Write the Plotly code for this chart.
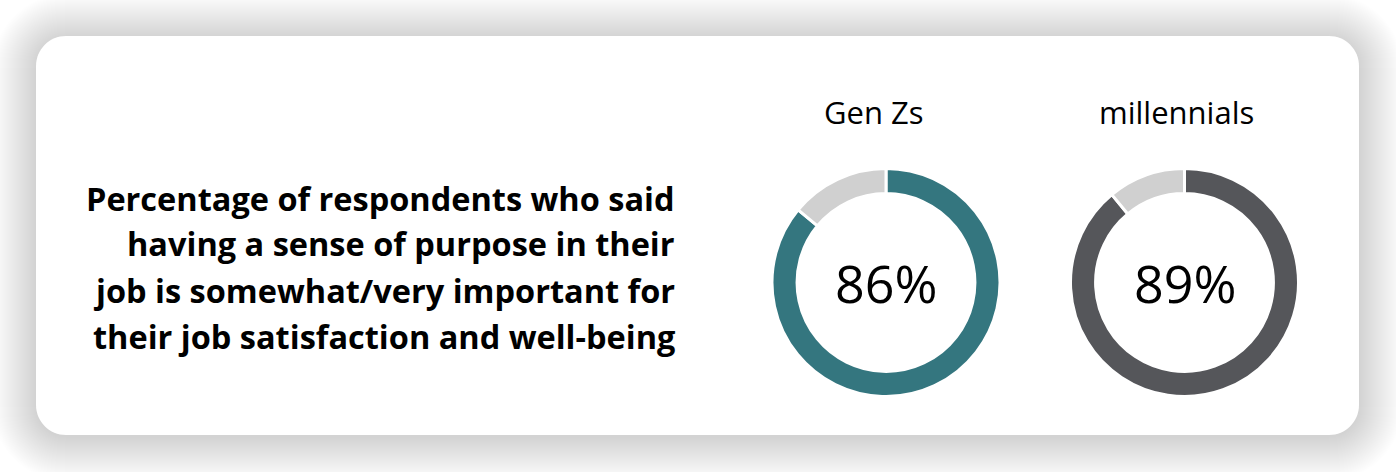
import plotly.graph_objects as go

W, H = 1396, 472

groups = ["Gen Zs", "millennials"]
agree_pct = [86, 89]
ring_colors = ["#34767F", "#55565A"]
rest_color = "#D0D0D0"
title_lines = [
    "Percentage of respondents who said",
    "having a sense of purpose in their",
    "job is somewhat/very important for",
    "their job satisfaction and well-being",
]

centers_px = [(886, 282.5), (1184.5, 282.5)]
label_x_px = [873.5, 1176]
R = 114

def px(x):
    return x / W

def py(y):
    return 1 - y / H

def rrect(x0, y0, x1, y1, r):
    k = 0.5523 * r
    pts = []
    pts.append(f"M{px(x0 + r)},{py(y0)}")
    pts.append(f"L{px(x1 - r)},{py(y0)}")
    pts.append(f"C{px(x1 - r + k)},{py(y0)} {px(x1)},{py(y0 + r - k)} {px(x1)},{py(y0 + r)}")
    pts.append(f"L{px(x1)},{py(y1 - r)}")
    pts.append(f"C{px(x1)},{py(y1 - r + k)} {px(x1 - r + k)},{py(y1)} {px(x1 - r)},{py(y1)}")
    pts.append(f"L{px(x0 + r)},{py(y1)}")
    pts.append(f"C{px(x0 + r - k)},{py(y1)} {px(x0)},{py(y1 - r + k)} {px(x0)},{py(y1 - r)}")
    pts.append(f"L{px(x0)},{py(y0 + r)}")
    pts.append(f"C{px(x0)},{py(y0 + r - k)} {px(x0 + r - k)},{py(y0)} {px(x0 + r)},{py(y0)}")
    pts.append("Z")
    return " ".join(pts)

fig = go.Figure()

for i, g in enumerate(groups):
    cx, cy = centers_px[i]
    fig.add_trace(go.Pie(
        values=[agree_pct[i], 100 - agree_pct[i]],
        labels=["agree", "other"],
        hole=0.78,
        sort=False,
        direction="clockwise",
        rotation=0,
        marker=dict(colors=[ring_colors[i], rest_color], line=dict(color="white", width=3)),
        textinfo="none",
        hoverinfo="skip",
        showlegend=False,
        domain=dict(x=[px(cx - R), px(cx + R)], y=[py(cy + R), py(cy - R)]),
    ))
    fig.add_annotation(x=px(cx), y=py(cy), xref="paper", yref="paper",
                       text=f"{agree_pct[i]}%", showarrow=False,
                       font=dict(family="Open Sans", size=52, color="#000"),
                       xanchor="center", yanchor="middle")
    fig.add_annotation(x=px(label_x_px[i]), y=py(112), xref="paper", yref="paper",
                       text=g, showarrow=False,
                       font=dict(family="Open Sans", size=31, color="#000"),
                       xanchor="center", yanchor="middle")

for j, line in enumerate(title_lines):
    fig.add_annotation(x=px(677), y=py(198 + 46 * j), xref="paper", yref="paper",
                       text=f"<b>{line}</b>", showarrow=False,
                       font=dict(family="Open Sans", size=32.5, color="#000"),
                       xanchor="right", yanchor="middle", align="right")

shapes = []
for s in range(44, 0, -1):
    shapes.append(dict(type="path", xref="paper", yref="paper", layer="below",
                       path=rrect(36 - s, 36 - s + 2, 1359 + s, 435 + s + 2, 30 + s),
                       fillcolor="rgba(0,0,0,0.003)", line=dict(width=0)))
shapes.append(dict(type="path", xref="paper", yref="paper", layer="below",
                   path=rrect(36, 36, 1359, 435, 30),
                   fillcolor="#FFFFFF", line=dict(width=0)))

fig.update_layout(
    width=W, height=H,
    margin=dict(l=0, r=0, t=0, b=0),
    paper_bgcolor="#FFFFFF", plot_bgcolor="#FFFFFF",
    shapes=shapes,
    showlegend=False,
)

fig.write_html("out.html", config={"displayModeBar": False})
